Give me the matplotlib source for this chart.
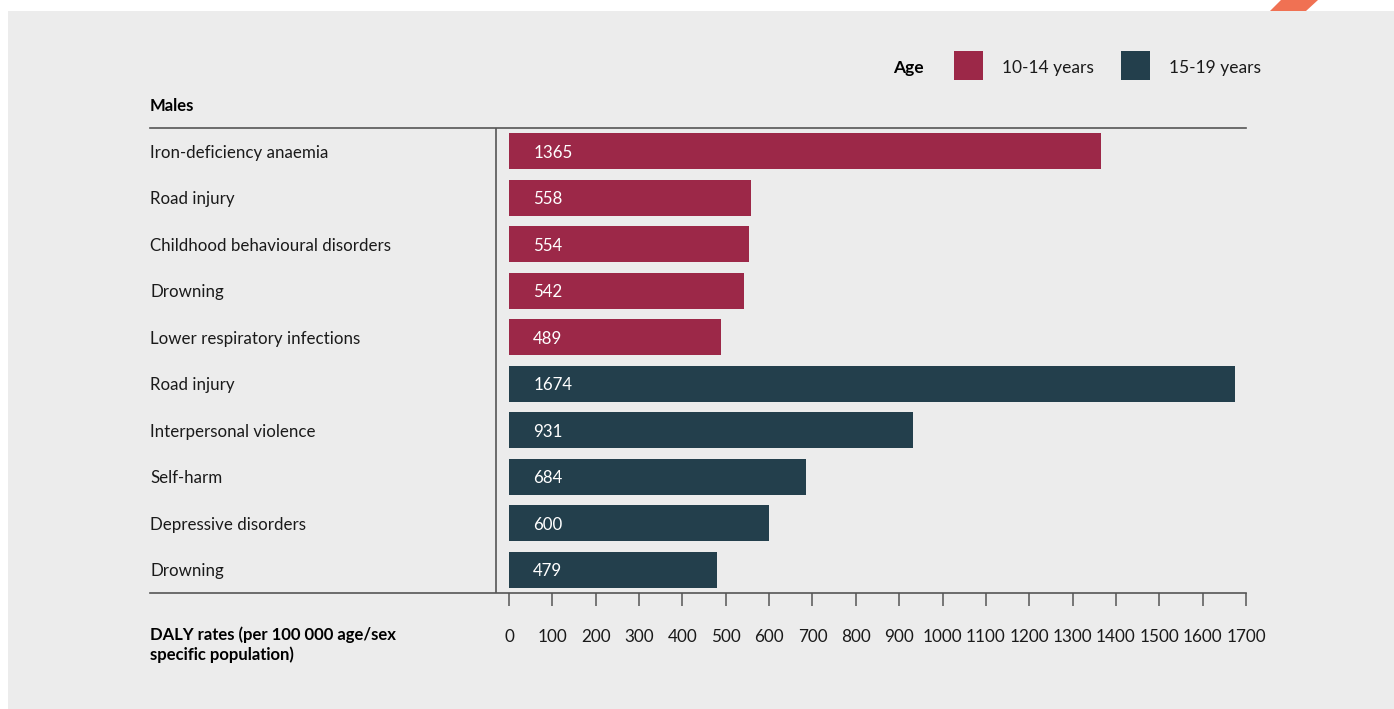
import numpy as np
import matplotlib
matplotlib.use("Agg")
import matplotlib.pyplot as plt
from matplotlib.patches import Rectangle, Polygon

plt.rcParams['font.family'] = ['Lato', 'DejaVu Sans']

# data
causes = ["Iron-deficiency anaemia", "Road injury", "Childhood behavioural disorders",
          "Drowning", "Lower respiratory infections",
          "Road injury", "Interpersonal violence", "Self-harm",
          "Depressive disorders", "Drowning"]
values = [1365, 558, 554, 542, 489, 1674, 931, 684, 600, 479]
groups = ["10-14 years"] * 5 + ["15-19 years"] * 5
ticks = list(range(0, 1800, 100))

colors = {"10-14 years": "#9c2848", "15-19 years": "#233f4c"}
bg = "#ececec"
line_col = "#555555"

W, H = 1394, 709
fig = plt.figure(figsize=(W / 100, H / 100), dpi=100, facecolor="white")

def fx(px):
    return px / W

def fy(py):
    return 1 - py / H

# grey panel and orange corner mark
fig.patches.append(Rectangle((fx(8), fy(709)), fx(W - 8), fy(11) - fy(709),
                             transform=fig.transFigure, facecolor=bg, edgecolor="none", zorder=-2))
fig.patches.append(Polygon([(fx(1270), fy(11)), (fx(1306), fy(11)), (fx(1318), fy(0)), (fx(1281), fy(0))],
                           closed=True, transform=fig.transFigure, facecolor="#f07153",
                           edgecolor="none", zorder=-2))

ax = fig.add_axes([fx(150), fy(593), fx(1246) - fx(150), fy(128) - fy(593)])
ax.set_facecolor("none")
ax.set_zorder(2)

scale = (1246 - 509) / 1700.0
xmin = -(509 - 150) / scale
y = np.arange(len(causes))
bar_cols = [colors[g] for g in groups]
ax.barh(y, values, height=0.77, color=bar_cols, left=0)
for yi, v in zip(y, values):
    ax.text(56, yi + 0.035, str(v), color="white", fontsize=12.2, va="center", ha="left")
for yi, c in zip(y, causes):
    ax.text(0, yi + 0.035, c, transform=ax.get_yaxis_transform(), fontsize=12.2, va="center",
            ha="left", color="#1a1a1a")

ax.set_xlim(xmin, 1700)
ax.set_ylim(len(causes) - 0.5, -0.5)
ax.axvline(-30, color=line_col, lw=1.2)

for s in ["left", "right"]:
    ax.spines[s].set_visible(False)
for s in ["top", "bottom"]:
    ax.spines[s].set_color(line_col)
    ax.spines[s].set_linewidth(1.2)

ax.set_yticks([])
ax.set_xticks(ticks)
ax.set_xticklabels([str(t) for t in ticks], fontsize=12.3, color="#1a1a1a")
ax.tick_params(axis="x", length=9, width=1.1, color=line_col, pad=17)

fig.text(fx(150), fy(106), "Males", fontsize=12, fontweight="bold", va="center", ha="left")
fig.text(fx(150), fy(626), "DALY rates (per 100 000 age/sex\nspecific population)", fontsize=12,
         fontweight="bold", va="top", ha="left", linespacing=1.25)

# legend
fig.text(fx(893), fy(68), "Age", fontsize=12.5, fontweight="bold", va="center", ha="left")
for x0, g in [(954, "10-14 years"), (1121, "15-19 years")]:
    fig.patches.append(Rectangle((fx(x0), fy(80)), fx(29), fy(51) - fy(80),
                                 transform=fig.transFigure, facecolor=colors[g], edgecolor="none"))
    fig.text(fx(x0 + 48), fy(68), g, fontsize=12.5, va="center", ha="left", color="#1a1a1a")

fig.savefig("out.png", dpi=100, facecolor="white")
